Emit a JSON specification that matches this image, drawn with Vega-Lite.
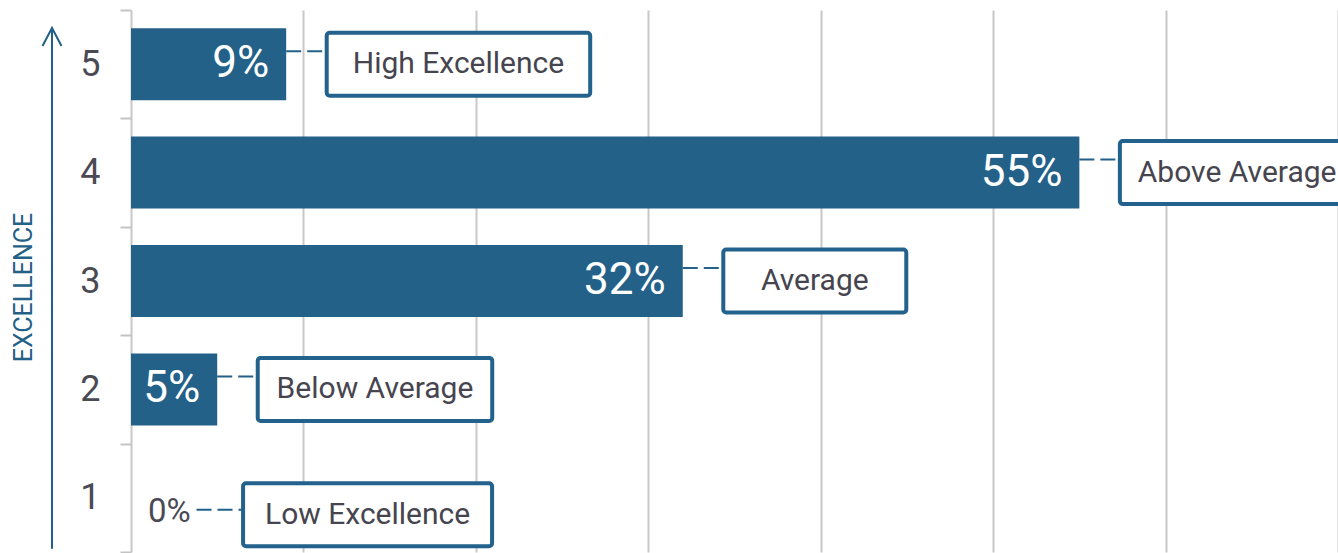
{
  "$schema": "https://vega.github.io/schema/vega-lite/v6.json",
  "padding": {"top": -8, "left": 0, "right": 0, "bottom": 0},
  "spacing": 60,
  "bounds": "flush",
  "config": {"view": {"stroke": null}, "font": "Roboto"},
  "datasets": {
    "ratings": [
      {"level": 5, "value": 9, "label": "High Excellence"},
      {"level": 4, "value": 55, "label": "Above Average"},
      {"level": 3, "value": 32, "label": "Average"},
      {"level": 2, "value": 5, "label": "Below Average"},
      {"level": 1, "value": 0, "label": "Low Excellence"}
    ],
    "shaft": [{"x": 52, "ylo": 0.03, "yhi": 4.83}],
    "head": [
      {"x": 42.5, "y": 4.668, "o": 1},
      {"x": 52, "y": 4.834, "o": 2},
      {"x": 61.5, "y": 4.668, "o": 3}
    ],
    "title": [{"tx": 24, "ty": 2.44, "title": "EXCELLENCE"}]
  },
  "hconcat": [
    {
      "width": 71,
      "height": 542,
      "layer": [
        {
          "data": {"name": "shaft"},
          "mark": {"type": "rule", "color": "#236187", "strokeWidth": 2},
          "encoding": {
            "x": {"field": "x", "type": "quantitative", "scale": {"domain": [0, 71], "nice": false}, "axis": null},
            "y": {"field": "ylo", "type": "quantitative", "scale": {"domain": [0, 5], "nice": false}, "axis": null},
            "y2": {"field": "yhi"}
          }
        },
        {
          "data": {"name": "head"},
          "mark": {"type": "line", "color": "#236187", "strokeWidth": 2},
          "encoding": {
            "x": {"field": "x", "type": "quantitative", "scale": {"domain": [0, 71], "nice": false}, "axis": null},
            "y": {"field": "y", "type": "quantitative", "scale": {"domain": [0, 5], "nice": false}, "axis": null},
            "order": {"field": "o"}
          }
        },
        {
          "data": {"name": "title"},
          "mark": {"type": "text", "angle": 270, "fontSize": 25, "color": "#236187", "align": "center", "baseline": "middle"},
          "encoding": {
            "x": {"field": "tx", "type": "quantitative", "scale": {"domain": [0, 71], "nice": false}, "axis": null},
            "y": {"field": "ty", "type": "quantitative", "scale": {"domain": [0, 5], "nice": false}, "axis": null},
            "text": {"field": "title"}
          }
        }
      ]
    },
    {
      "width": 1207,
      "height": 542,
      "data": {"name": "ratings"},
      "transform": [
        {"calculate": "datum.value + '%'", "as": "pct"},
        {"calculate": "datum.value == 0 ? 6.5 : datum.value + 2.35", "as": "box_start"},
        {"calculate": "datum.value == 0 ? 3.8 : datum.value", "as": "line_start"},
        {"calculate": "datum.box_start + max(183, 46 + 14.5 * length(datum.label)) / 17.243", "as": "box_end"},
        {"calculate": "(datum.box_start + datum.box_end) / 2", "as": "box_mid"}
      ],
      "encoding": {
        "y": {
          "field": "level", "type": "ordinal", "sort": "descending",
          "scale": {"paddingInner": 0, "paddingOuter": 0},
          "axis": {
            "title": null, "domain": false, "tickBand": "extent", "tickColor": "#c3c3c3", "tickWidth": 2, "tickSize": 11,
            "labelFontSize": 36, "labelColor": "#4a4a55", "labelPadding": 20, "labelAngle": 0, "grid": false
          }
        }
      },
      "layer": [
        {
          "mark": {"type": "bar", "color": "#236189", "height": 72},
          "encoding": {
            "x": {
              "field": "value", "type": "quantitative",
              "scale": {"domain": [0, 70], "nice": false},
              "axis": {"values": [0, 10, 20, 30, 40, 50, 60, 70], "grid": true, "gridColor": "#c8c8c8", "gridWidth": 2, "labels": false, "ticks": false, "domain": false, "title": null}
            }
          }
        },
        {
          "mark": {"type": "rule", "color": "#236189", "strokeWidth": 2, "strokeDash": [15, 6], "yOffset": {"expr": "datum.value == 0 ? 12 : -13"}},
          "encoding": {
            "x": {"field": "line_start", "type": "quantitative"},
            "x2": {"field": "box_start"}
          }
        },
        {
          "mark": {"type": "bar", "height": 63, "fill": "white", "stroke": "#22628c", "strokeWidth": 4, "cornerRadius": 3, "clip": true, "yOffset": {"expr": "datum.value == 0 ? 17 : 0"}},
          "encoding": {
            "x": {"field": "box_start", "type": "quantitative"},
            "x2": {"field": "box_end"}
          }
        },
        {
          "mark": {"type": "text", "fontSize": 30, "color": "#46454f", "align": "center", "baseline": "middle", "clip": true, "yOffset": {"expr": "datum.value == 0 ? 17 : 0"}},
          "encoding": {
            "x": {"field": "box_mid", "type": "quantitative"},
            "text": {"field": "label"}
          }
        },
        {
          "transform": [{"filter": "datum.value > 0"}],
          "mark": {"type": "text", "fontSize": 44, "color": "white", "align": "right", "baseline": "middle", "dx": -17},
          "encoding": {
            "x": {"field": "value", "type": "quantitative"},
            "text": {"field": "pct"}
          }
        },
        {
          "transform": [{"filter": "datum.value == 0"}],
          "mark": {"type": "text", "fontSize": 33, "color": "#4a4a55", "align": "left", "baseline": "middle", "dx": 17, "yOffset": 14},
          "encoding": {
            "x": {"field": "value", "type": "quantitative"},
            "text": {"field": "pct"}
          }
        }
      ]
    }
  ]
}
